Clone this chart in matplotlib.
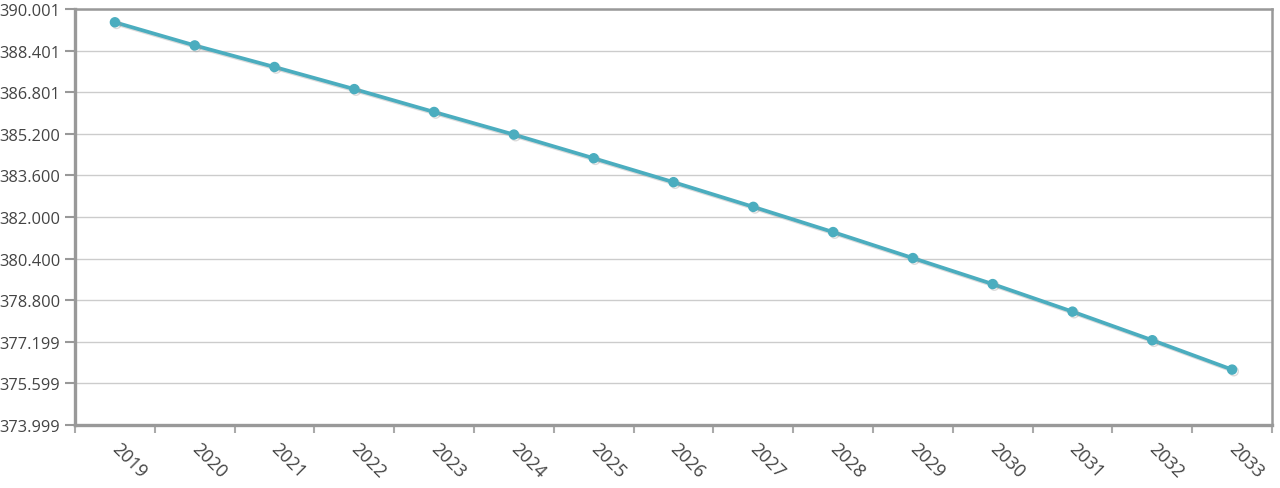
import numpy as np
import matplotlib.pyplot as plt
import matplotlib.patheffects as pe
import matplotlib.transforms as mtrans

# values
years = ['2019', '2020', '2021', '2022', '2023', '2024', '2025', '2026',
         '2027', '2028', '2029', '2030', '2031', '2032', '2033']
values = [389.49, 388.60, 387.77, 386.92, 386.04, 385.17, 384.26, 383.34,
          382.39, 381.42, 380.42, 379.42, 378.36, 377.26, 376.13]
ytick_vals = [373.999, 375.599, 377.199, 378.800, 380.400, 382.000,
              383.600, 385.200, 386.801, 388.401, 390.001]
ytick_labels = ['373.999', '375.599', '377.199', '378.800', '380.400', '382.000',
                '383.600', '385.200', '386.801', '388.401', '390.001']

plt.rcParams['font.family'] = ['Open Sans', 'DejaVu Sans']

fig = plt.figure(figsize=(12.8, 4.89), dpi=100)
ax = fig.add_axes([75 / 1280, 63 / 489, 1197 / 1280, 416 / 489])

x = np.arange(len(years))
shadow = [pe.SimpleLineShadow(offset=(1.2, -1.2), shadow_color='#999999', alpha=0.35), pe.Normal()]
ax.plot(x, values, color='#4badbf', lw=2.7, marker='o', ms=6.5,
        markeredgecolor='#4badbf', zorder=3, path_effects=shadow)

ax.set_xlim(-0.5, len(years) - 0.5)
ax.set_ylim(ytick_vals[0], ytick_vals[-1])

ax.set_yticks(ytick_vals)
ax.set_yticklabels(ytick_labels)
ax.tick_params(axis='y', length=7, width=1.5, color='#999999', pad=3.5,
               labelsize=11.8, labelcolor='#444444')

# boundary ticks without labels, category labels at centers
ax.set_xticks(np.arange(len(years) + 1) - 0.5)
ax.set_xticklabels([])
ax.set_xticks(x, minor=True)
ax.set_xticklabels(years, minor=True, rotation=-45, ha='left', va='top',
                   rotation_mode='anchor')
ax.tick_params(axis='x', which='major', length=6, width=1.5, color='#aaaaaa')
ax.tick_params(axis='x', which='minor', length=0, pad=10, labelsize=13,
               labelcolor='#444444')
shift = mtrans.ScaledTranslation(6 / 100, 0, fig.dpi_scale_trans)
for lbl in ax.get_xticklabels(minor=True):
    lbl.set_transform(lbl.get_transform() + shift)

ax.grid(axis='y', color='#cccccc', lw=1)
ax.set_axisbelow(True)

for side in ['left', 'bottom']:
    ax.spines[side].set_color('#999999')
    ax.spines[side].set_linewidth(2.4)
for side in ['top', 'right']:
    ax.spines[side].set_color('#999999')
    ax.spines[side].set_linewidth(1.8)

fig.savefig('out.png', dpi=100)
